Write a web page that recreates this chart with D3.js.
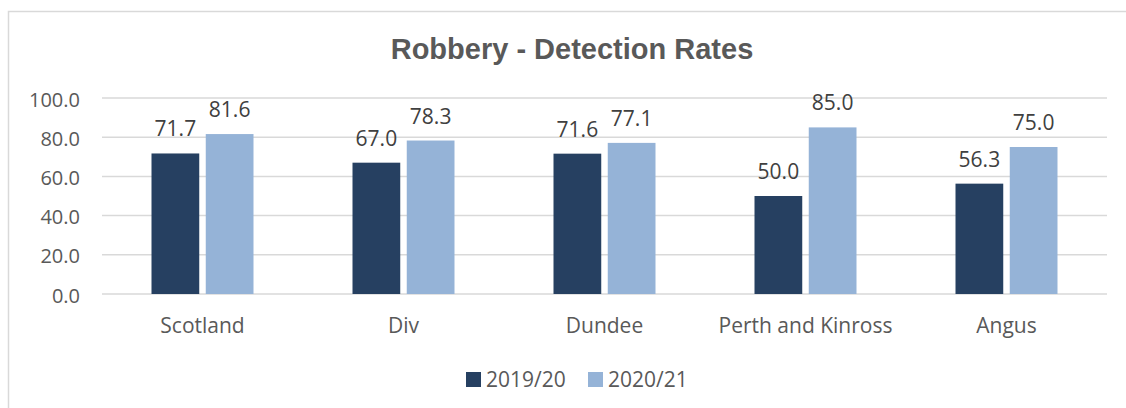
<!DOCTYPE html>
<html>
<head>
<meta charset="utf-8">
<script src="https://cdn.jsdelivr.net/npm/d3@7"></script>
<style>
  body { margin: 0; background: #fff; }
  svg text { font-family: "Open Sans", "Noto Sans", sans-serif; }
</style>
</head>
<body>
<div id="chart"></div>
<script>
const categories = ["Scotland", "Div", "Dundee", "Perth and Kinross", "Angus"];
const seriesNames = ["2019/20", "2020/21"];
const values2019 = [71.7, 67.0, 71.6, 50.0, 56.3];
const values2020 = [81.6, 78.3, 77.1, 85.0, 75.0];
const yTicks = [0, 20, 40, 60, 80, 100];
const colors = ["#264061", "#95b3d7"];

const width = 1126, height = 408;
const margin = {top: 98, right: 19, bottom: 114, left: 102};

const svg = d3.select("#chart").append("svg")
    .attr("width", width)
    .attr("height", height);

// chart border
svg.append("rect")
    .attr("x", 8.5).attr("y", 11.5)
    .attr("width", 1140).attr("height", 420)
    .attr("fill", "none")
    .attr("stroke", "#d9d9d9")
    .attr("stroke-width", 1.5);

const x0 = d3.scaleBand().domain(categories)
    .range([margin.left, width - margin.right]);
const x1 = d3.scaleBand().domain(seriesNames)
    .range([x0.bandwidth() / 2 - 51, x0.bandwidth() / 2 + 51])
    .paddingInner(0.12);
const y = d3.scaleLinear().domain([0, 100])
    .range([height - margin.bottom, margin.top]);

// gridlines
svg.append("g").selectAll("line")
    .data(yTicks)
    .join("line")
    .attr("x1", margin.left)
    .attr("x2", width - margin.right)
    .attr("y1", d => y(d))
    .attr("y2", d => y(d))
    .attr("stroke", "#d9d9d9")
    .attr("stroke-width", 1.5);

// y axis labels
const yAxis = d3.axisLeft(y).tickValues(yTicks).tickFormat(d3.format(".1f")).tickSize(0).tickPadding(22);
svg.append("g")
    .attr("transform", `translate(${margin.left},0)`)
    .call(yAxis)
    .call(g => g.select(".domain").remove())
    .call(g => g.selectAll("text").attr("fill", "#595959").attr("font-size", "20px").attr("dy", "0.4em"));

// x axis labels
const xAxis = d3.axisBottom(x0).tickSize(0).tickPadding(24);
svg.append("g")
    .attr("transform", `translate(0,${y(0)})`)
    .call(xAxis)
    .call(g => g.select(".domain").remove())
    .call(g => g.selectAll("text").attr("fill", "#595959").attr("font-size", "21px"));

const rows = categories.map((c, i) => ({
    cat: c,
    vals: [{s: seriesNames[0], v: values2019[i]}, {s: seriesNames[1], v: values2020[i]}]
}));

const groups = svg.append("g").selectAll("g")
    .data(rows)
    .join("g")
    .attr("transform", d => `translate(${x0(d.cat)},0)`);

groups.selectAll("rect")
    .data(d => d.vals)
    .join("rect")
    .attr("x", d => x1(d.s))
    .attr("width", x1.bandwidth())
    .attr("y", d => y(d.v))
    .attr("height", d => y(0) - y(d.v))
    .attr("fill", (d, i) => colors[i]);

groups.selectAll("text.val")
    .data(d => d.vals)
    .join("text")
    .attr("class", "val")
    .attr("x", d => x1(d.s) + x1.bandwidth() / 2)
    .attr("y", d => y(d.v) - 17)
    .attr("text-anchor", "middle")
    .attr("fill", "#404040")
    .attr("font-size", "21px")
    .text(d => d3.format(".1f")(d.v));

// title
svg.append("text")
    .attr("x", 572)
    .attr("y", 59)
    .attr("text-anchor", "middle")
    .attr("fill", "#595959")
    .attr("font-size", "29px")
    .attr("font-weight", "bold")
    .style("font-family", "'Liberation Sans', Arial, sans-serif")
    .text("Robbery - Detection Rates");

// legend
const legendX = [466, 588];
const legend = svg.append("g").selectAll("g")
    .data(seriesNames)
    .join("g")
    .attr("transform", (d, i) => `translate(${legendX[i]},372)`);
legend.append("rect")
    .attr("width", 15).attr("height", 15)
    .attr("fill", (d, i) => colors[i]);
legend.append("text")
    .attr("x", 20).attr("y", 15)
    .attr("fill", "#595959")
    .attr("font-size", "21px")
    .text(d => d);
</script>
</body>
</html>
